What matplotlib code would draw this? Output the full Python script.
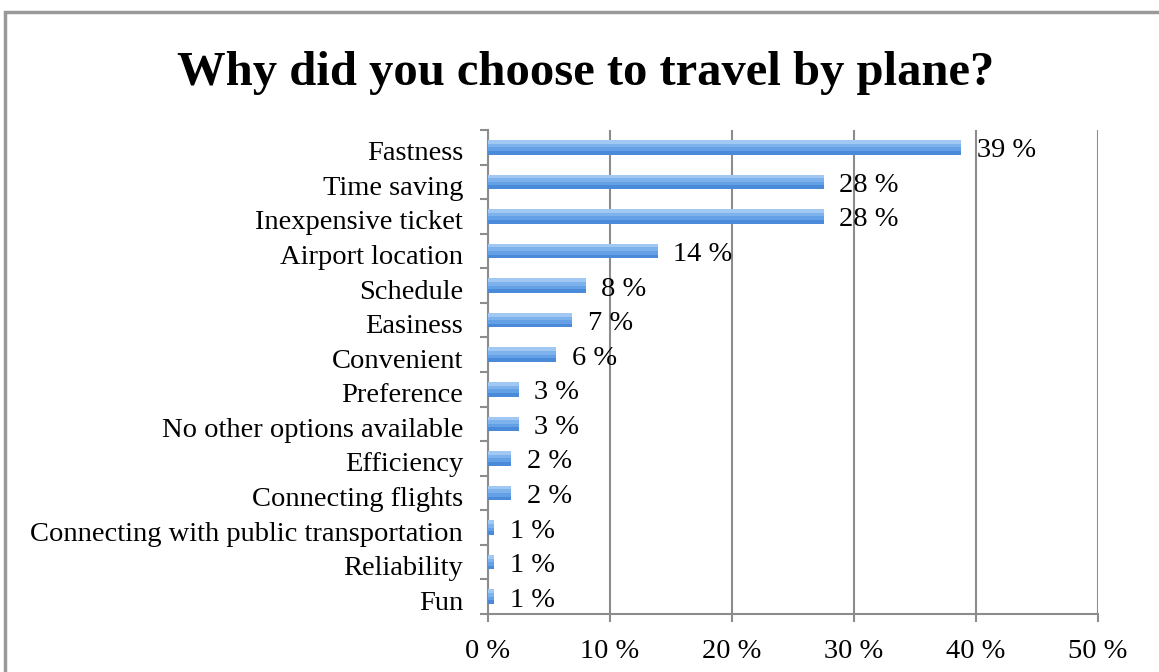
import numpy as np
import matplotlib.pyplot as plt
from matplotlib.patches import Rectangle

# datos (porcentaje de respuestas)
reasons = ['Fastness', 'Time saving', 'Inexpensive ticket', 'Airport location',
           'Schedule', 'Easiness', 'Convenient', 'Preference',
           'No other options available', 'Efficiency', 'Connecting flights',
           'Connecting with public transportation', 'Reliability', 'Fun']
shares = [38.8, 27.5, 27.5, 13.9, 8.0, 6.9, 5.6, 2.5, 2.5, 1.9, 1.9, 0.5, 0.5, 0.5]
share_labels = ['39 %', '28 %', '28 %', '14 %', '8 %', '7 %', '6 %', '3 %',
                '3 %', '2 %', '2 %', '1 %', '1 %', '1 %']
xticks = [0, 10, 20, 30, 40, 50]

plt.rcParams['font.family'] = ['Liberation Serif', 'DejaVu Serif']
gris = '#8c8c8c'
fs = 20.5

fig = plt.figure(figsize=(11.59, 6.72), dpi=100)
fig.patches.append(Rectangle((5 / 1159, -0.1), 1.2, 1.1 - 12 / 672,
                             transform=fig.transFigure, fill=False,
                             edgecolor='#999999', linewidth=2.5))
ax = fig.add_axes([488 / 1159, 1 - 614 / 672, 610 / 1159, 484 / 672])

y = np.arange(len(reasons))
# barra con degradado: abajo oscuro, arriba claro
h = 0.42
ax.barh(y, shares, height=h, color='#4a8ad8', zorder=3)
ax.barh(y - h / 8, shares, height=3 * h / 4, color='#64a0e6', zorder=3)
ax.barh(y - h / 4, shares, height=h / 2, color='#7db2ec', zorder=3)
ax.barh(y - 3 * h / 8, shares, height=h / 4, color='#a0c8f3', zorder=3)

for yi, v, lab in zip(y, shares, share_labels):
    ax.text(v + 1.3, yi + 0.1, lab, va='center', ha='left', fontsize=fs, zorder=4)

ax.set_ylim(len(reasons) - 0.5, -0.5)
ax.set_xlim(0, 50)
# etiquetas un poco mas abajo que el centro de la barra, como en el original
ax.set_yticks(y + 0.1)
ax.set_yticklabels(reasons, fontsize=fs)
ax.set_yticks(np.arange(len(reasons) + 1) - 0.5, minor=True)
ax.tick_params(axis='y', which='major', length=0, pad=18)
ax.tick_params(axis='y', which='minor', length=6, width=1.5, color=gris)
ax.set_xticks(xticks)
ax.set_xticklabels([f'{t} %' for t in xticks], fontsize=fs)
ax.tick_params(axis='x', length=6, width=1.5, color=gris, pad=12)

ax.grid(axis='x', color=gris, linewidth=1.5, zorder=0)
for s in ['top', 'right']:
    ax.spines[s].set_visible(False)
for s in ['left', 'bottom']:
    ax.spines[s].set_color(gris)
    ax.spines[s].set_linewidth(1.5)

fig.text(586 / 1159, 1 - 73 / 672, 'Why did you choose to travel by plane?',
         ha='center', va='center', fontsize=35, fontweight='bold')

plt.savefig('out.png', dpi=100)
